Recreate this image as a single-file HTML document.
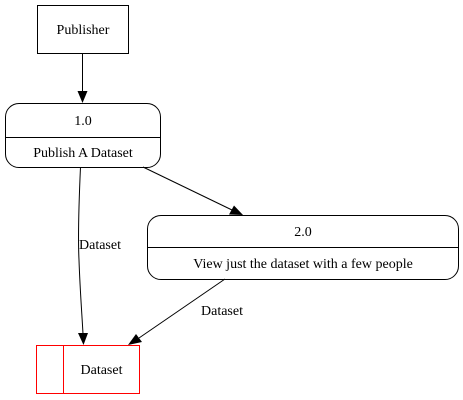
<!DOCTYPE html>
<html><head><meta charset="utf-8"><style>
body{margin:0;background:#fff;width:463px;height:400px;position:relative;overflow:hidden;font-family:"Liberation Serif","DejaVu Serif",serif;font-size:14px;color:#000}
.a{position:absolute;box-sizing:border-box}
.t{position:absolute;white-space:nowrap;line-height:16px}
.c{text-align:center}
</style></head><body>
<svg class="a" style="left:0;top:0" width="463" height="400" xmlns="http://www.w3.org/2000/svg">
<line x1="82.5" y1="53" x2="82.5" y2="92" stroke="#000"/>
<polygon points="77.5,91 87.5,91 82.5,103" fill="#000"/>
<path d="M80.5,167 C79,200 78,240 79,260 C80,290 82,315 83,334" fill="none" stroke="#000"/>
<polygon points="78,333 88,333 83.5,345" fill="#000"/>
<line x1="143" y1="167" x2="232" y2="210" stroke="#000"/>
<polygon points="229,214.5 234,205.5 243,215" fill="#000"/>
<line x1="225" y1="279" x2="139" y2="338" stroke="#000"/>
<polygon points="136,334 142,342 128,345" fill="#000"/>
</svg>
<div class="a" style="left:37px;top:5px;width:92px;height:49px;border:1px solid #000"></div>
<div class="t c" style="left:37px;top:23px;width:92px">Publisher</div>
<div class="a" style="left:5px;top:103px;width:156px;height:65px;border:1px solid #000;border-radius:14px"></div>
<div class="a" style="left:5px;top:137px;width:156px;height:1px;background:#000"></div>
<div class="t c" style="left:5px;top:114px;width:156px">1.0</div>
<div class="t c" style="left:5px;top:146px;width:156px">Publish A Dataset</div>
<div class="a" style="left:147px;top:215px;width:312px;height:65px;border:1px solid #000;border-radius:14px"></div>
<div class="a" style="left:147px;top:247px;width:312px;height:1px;background:#000"></div>
<div class="t c" style="left:147px;top:225px;width:312px">2.0</div>
<div class="t c" style="left:147px;top:257px;width:312px">View just the dataset with a few people</div>
<div class="a" style="left:36px;top:345px;width:104px;height:1px;background:#ff0000"></div>
<div class="a" style="left:36px;top:393px;width:104px;height:1px;background:#ff0000"></div>
<div class="a" style="left:36px;top:345px;width:1px;height:49px;background:#ff0000"></div>
<div class="a" style="left:139px;top:345px;width:1px;height:49px;background:#ff0000"></div>
<div class="a" style="left:63px;top:345px;width:1px;height:49px;background:#ff0000"></div>
<div class="t c" style="left:63px;top:363px;width:77px">Dataset</div>
<div class="t" style="left:79px;top:238px">Dataset</div>
<div class="t" style="left:201px;top:304px">Dataset</div>
</body></html>
